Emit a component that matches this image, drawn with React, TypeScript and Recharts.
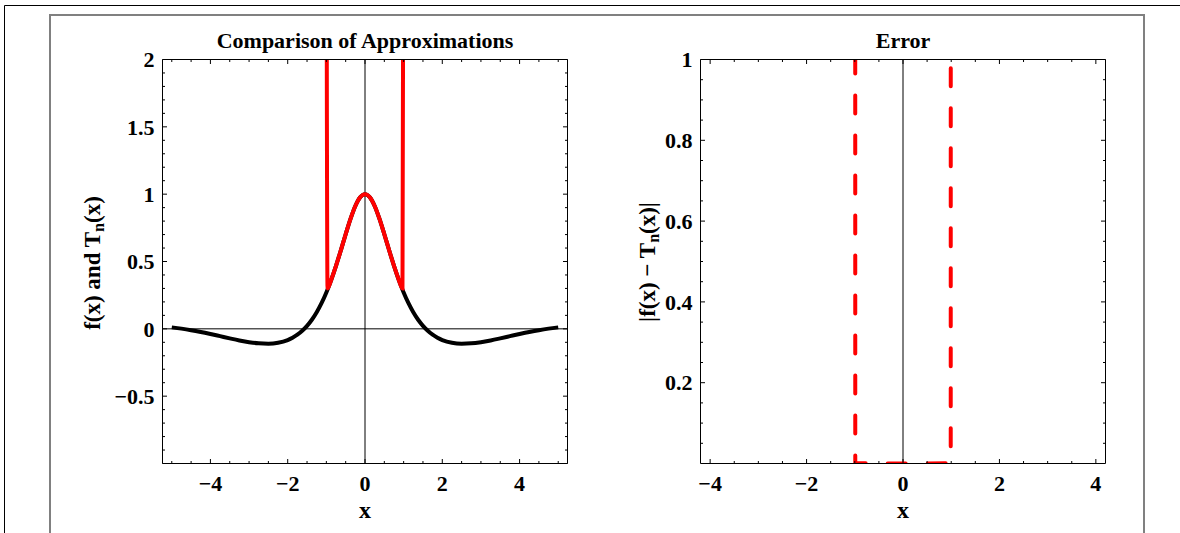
import React from "react";
import { LineChart, Line, XAxis, YAxis, ReferenceLine } from "recharts";

const W = 1180;
const H = 533;

// f(x), the black curve in the left panel
const fX = [-5, -4.75, -4.5, -4.25, -4, -3.75, -3.5, -3.25, -3, -2.75, -2.5, -2.25, -2, -1.875, -1.75, -1.625, -1.5, -1.375, -1.25, -1.125, -1, -0.875, -0.75, -0.625, -0.5, -0.375, -0.25, -0.125, 0, 0.125, 0.25, 0.375, 0.5, 0.625, 0.75, 0.875, 1, 1.125, 1.25, 1.375, 1.5, 1.625, 1.75, 1.875, 2, 2.25, 2.5, 2.75, 3, 3.25, 3.5, 3.75, 4, 4.25, 4.5, 4.75, 5];
const fY = [0.0109, 0.0016, -0.0099, -0.0234, -0.0385, -0.0545, -0.0707, -0.086, -0.099, -0.1079, -0.1105, -0.1036, -0.0832, -0.0663, -0.0439, -0.0149, 0.0218, 0.0673, 0.1231, 0.1903, 0.2702, 0.363, 0.4683, 0.5832, 0.7021, 0.8158, 0.9119, 0.9769, 1, 0.9769, 0.9119, 0.8158, 0.7021, 0.5832, 0.4683, 0.363, 0.2702, 0.1903, 0.1231, 0.0673, 0.0218, -0.0149, -0.0439, -0.0663, -0.0832, -0.1036, -0.1105, -0.1079, -0.099, -0.086, -0.0707, -0.0545, -0.0385, -0.0234, -0.0099, 0.0016, 0.0109];

// T_n(x), the red curve (blows up at |x| = 1)
const tX = [-1, -0.97, -0.875, -0.75, -0.625, -0.5, -0.375, -0.25, -0.125, 0, 0.125, 0.25, 0.375, 0.5, 0.625, 0.75, 0.875, 0.97, 1];
const tY = [4, 0.3, 0.363, 0.4683, 0.5832, 0.7021, 0.8158, 0.9119, 0.9769, 1, 0.9769, 0.9119, 0.8158, 0.7021, 0.5832, 0.4683, 0.363, 0.3, 4];

// |f(x) - T_n(x)|, the dashed red curve
const eX = [-1, -0.99, -0.5, 0, 0.5, 0.99, 1];
const eY = [12, 0.001, 0, 0, 0, 0.001, 12];

// tick labels
const leftXLabels = [-4, -2, 0, 2, 4];
const leftYLabels = [-0.5, 0, 0.5, 1, 1.5, 2];
const rightXLabels = [-4, -2, 0, 2, 4];
const rightYLabels = [0.2, 0.4, 0.6, 0.8, 1];

const FONT = "'Liberation Serif', 'DejaVu Serif', serif";
const TICK_FS = 22;
const Y_AXIS_W = 40;
const X_AXIS_H = 40;

type Panel = {
  left: number;
  right: number;
  top: number;
  bottom: number;
  xDomain: [number, number];
  yDomain: [number, number];
  xTicks: number[];
  yTicks: number[];
  xLabels: number[];
  yLabels: number[];
};

const range = (a: number, b: number, step: number) => {
  const out: number[] = [];
  const n = Math.round((b - a) / step);
  for (let i = 0; i <= n; i++) out.push(Math.round((a + i * step) * 1000) / 1000);
  return out;
};

const LEFT: Panel = {
  left: 162.5,
  right: 567.5,
  top: 59.5,
  bottom: 463.5,
  xDomain: [-5.24, 5.24],
  yDomain: [-1, 2],
  xTicks: range(-5, 5, 0.5),
  yTicks: range(-1, 2, 0.1),
  xLabels: leftXLabels,
  yLabels: leftYLabels,
};

const RIGHT: Panel = {
  left: 700.5,
  right: 1105.5,
  top: 59.5,
  bottom: 463.5,
  xDomain: [-4.2, 4.2],
  yDomain: [0, 1],
  xTicks: range(-4, 4, 0.5),
  yTicks: range(0.05, 1, 0.05),
  xLabels: rightXLabels,
  yLabels: rightYLabels,
};

const fmt = (v: number) => String(v).replace("-", "\u2212");
const has = (list: number[], v: number) => list.some((l) => Math.abs(l - v) < 1e-6);

const XTick = ({ x, payload, panel }: any) => {
  const v = payload.value;
  const major = has(panel.xLabels, v);
  const len = major ? 4.5 : 2.5;
  return (
    <g>
      <line x1={x} x2={x} y1={panel.bottom} y2={panel.bottom - len} stroke="#000" />
      <line x1={x} x2={x} y1={panel.top} y2={panel.top + len} stroke="#000" />
      {major && (
        <text x={x} y={491} textAnchor="middle" fontFamily={FONT} fontWeight="bold" fontSize={TICK_FS} fill="#000">
          {fmt(v)}
        </text>
      )}
    </g>
  );
};

const YTick = ({ y, payload, panel, majors }: any) => {
  const v = payload.value;
  const labelled = has(panel.yLabels, v);
  const major = labelled || has(majors, v);
  const len = major ? 4.5 : 2.5;
  return (
    <g>
      <line x1={panel.left} x2={panel.left + len} y1={y} y2={y} stroke="#000" />
      <line x1={panel.right} x2={panel.right - len} y1={y} y2={y} stroke="#000" />
      {labelled && (
        <text x={panel.left - 8} y={y} dy="0.35em" textAnchor="end" fontFamily={FONT} fontWeight="bold" fontSize={TICK_FS} fill="#000">
          {fmt(v)}
        </text>
      )}
    </g>
  );
};

const toPoints = (xs: number[], ys: number[]) => xs.map((x, i) => ({ x, y: ys[i] }));

const PanelChart = ({ panel, yMajors, children }: any) => (
  <div style={{ position: "absolute", left: 0, top: 0 }}>
    <LineChart
      width={W}
      height={H}
      margin={{
        top: panel.top,
        left: panel.left - Y_AXIS_W,
        right: W - panel.right,
        bottom: H - panel.bottom - X_AXIS_H,
      }}
    >
      <XAxis
        dataKey="x"
        type="number"
        domain={panel.xDomain}
        allowDataOverflow
        ticks={panel.xTicks}
        interval={0}
        height={X_AXIS_H}
        tickLine={false}
        axisLine={{ stroke: "#000" }}
        tick={(props: any) => <XTick {...props} panel={panel} />}
      />
      <YAxis
        dataKey="y"
        type="number"
        domain={panel.yDomain}
        allowDataOverflow
        ticks={panel.yTicks}
        interval={0}
        width={Y_AXIS_W}
        tickLine={false}
        axisLine={{ stroke: "#000" }}
        tick={(props: any) => <YTick {...props} panel={panel} majors={yMajors} />}
      />
      {children}
    </LineChart>
  </div>
);

const frameStyle = { stroke: "#000", strokeWidth: 1, fill: "none" };

export default function App() {
  const fData = toPoints(fX, fY);
  const tData = toPoints(tX, tY);
  const eData = toPoints(eX, eY);

  return (
    <div style={{ position: "absolute", left: 0, top: 0, width: W, height: H, background: "#fff", overflow: "hidden" }}>
      <PanelChart panel={LEFT} yMajors={[-1]}>
        <ReferenceLine y={0} stroke="#000" strokeWidth={1} />
        <ReferenceLine x={0} stroke="#000" strokeWidth={1} />
        <Line data={fData} dataKey="y" type="monotone" stroke="#000" strokeWidth={4} dot={false} isAnimationActive={false} />
        <Line data={tData} dataKey="y" type="monotone" stroke="#ff0000" strokeWidth={4} dot={false} isAnimationActive={false} />
      </PanelChart>

      <PanelChart panel={RIGHT} yMajors={[]}>
        <ReferenceLine x={0} stroke="#000" strokeWidth={1} />
        <Line
          data={eData}
          dataKey="y"
          type="linear"
          stroke="#ff0000"
          strokeWidth={4}
          strokeDasharray="18 22"
          strokeLinecap="round"
          dot={false}
          isAnimationActive={false}
        />
      </PanelChart>

      <svg width={W} height={H} style={{ position: "absolute", left: 0, top: 0 }}>
        <path d={`M4.5 ${H} V5.5 H${W}`} {...frameStyle} />
        <path d={`M50 ${H} V15 H1144 V${H}`} stroke="#808080" strokeWidth={2} fill="none" />

        <path d={`M${LEFT.left} ${LEFT.top} H${LEFT.right} V${LEFT.bottom}`} {...frameStyle} />
        <path d={`M${RIGHT.left} ${RIGHT.top} H${RIGHT.right} V${RIGHT.bottom}`} {...frameStyle} />

        <g fontFamily={FONT} fontWeight="bold" fill="#000">
          <text x={365} y={48} textAnchor="middle" fontSize={22}>
            Comparison of Approximations
          </text>
          <text x={903} y={48} textAnchor="middle" fontSize={22}>
            Error
          </text>
          <text x={365} y={518} textAnchor="middle" fontSize={24}>
            x
          </text>
          <text x={903} y={518} textAnchor="middle" fontSize={24}>
            x
          </text>
          <text transform="translate(100 263) rotate(-90)" textAnchor="middle" fontSize={23}>
            f(x) and T<tspan dy={4} fontSize={16}>n</tspan>
            <tspan dy={-4}>(x)</tspan>
          </text>
          <text transform="translate(655 262) rotate(-90)" textAnchor="middle" fontSize={23}>
            |f(x) {"\u2212"} T<tspan dy={4} fontSize={16}>n</tspan>
            <tspan dy={-4}>(x)|</tspan>
          </text>
        </g>
      </svg>
    </div>
  );
}
